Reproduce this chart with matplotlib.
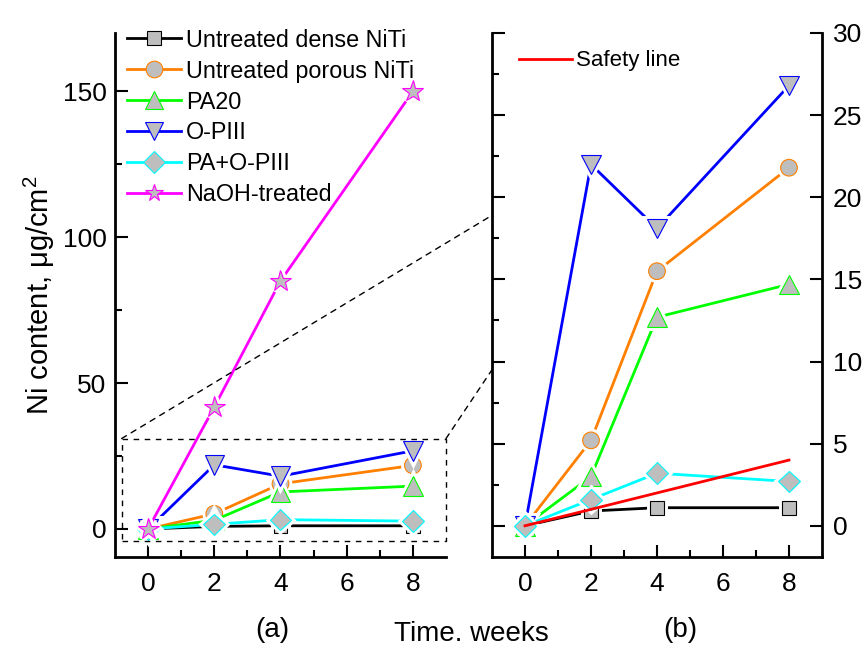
import matplotlib
matplotlib.use("Agg")
import matplotlib.pyplot as plt
from matplotlib.lines import Line2D
from matplotlib.patches import Rectangle, ConnectionPatch
import matplotlib.patheffects as pe

plt.rcParams['font.family'] = ['Liberation Sans', 'DejaVu Sans']
plt.rcParams['mathtext.fontset'] = 'custom'
plt.rcParams['mathtext.rm'] = 'Liberation Sans'

# Ni release vs immersion time
weeks = [0, 2, 4, 8]
dense = [0, 0.9, 1.1, 1.1]
porous = [0, 5.2, 15.5, 21.8]
pa20 = [0, 3.0, 12.7, 14.7]
opiii = [0, 22.0, 18.1, 26.8]
pa_opiii = [0, 1.6, 3.2, 2.7]
naoh = [0, 41.8, 85.0, 150.0]

safety_weeks = [0, 8]
safety = [0, 4.0]

labels = ['Untreated dense NiTi', 'Untreated porous NiTi', 'PA20', 'O-PIII',
          'PA+O-PIII', 'NaOH-treated']
colors = ['black', '#FF8000', '#00FF00', '#0000FF', '#00FFFF', '#FF00FF']
markers = ['s', 'o', '^', 'v', 'D', '*']
msizes = [10, 12, 14, 14, 11, 16]
gray = '#BEBEBE'

series = [dense, porous, pa20, opiii, pa_opiii, naoh]

fig = plt.figure(figsize=(8.65, 6.47), dpi=100)
ax1 = fig.add_axes([115/865, 1-557/647, 331/865, 524/647])
ax2 = fig.add_axes([492/865, 1-557/647, 330/865, 524/647])


def draw(ax, ys, c, m, ms, k):
    ax.plot(weeks, ys, color=c, lw=2, zorder=2+2*k, solid_capstyle='butt')
    ax.plot(weeks, ys, ls='none', marker=m, ms=ms, mfc=gray, mec=c, mew=0.8,
            zorder=3+2*k,
            path_effects=[pe.withStroke(linewidth=5, foreground='white')])


for k, (ys, c, m, ms) in enumerate(zip(series, colors, markers, msizes)):
    draw(ax1, ys, c, m, ms, k)
    if ys is not naoh:
        draw(ax2, ys, c, m, ms, k)

ax2.plot(safety_weeks, safety, color='red', lw=2, zorder=20)

# axes styling
for ax in (ax1, ax2):
    ax.set_xlim(-1, 9)
    ax.set_xticks([0, 2, 4, 6, 8])
    ax.set_xticks([1, 3, 5, 7], minor=True)
    ax.spines['top'].set_visible(False)
    for s in ax.spines.values():
        s.set_linewidth(2)
    ax.tick_params(which='both', direction='in', width=1.5, labelsize=19)
    ax.tick_params(which='major', length=9)
    ax.tick_params(which='minor', length=5)
    ax.tick_params(axis='x', pad=11)

ax1.spines['right'].set_visible(False)
ax1.set_ylim(-9.6, 170)
ax1.set_yticks([0, 50, 100, 150])
ax1.set_yticks([25, 75, 125], minor=True)
ax1.tick_params(axis='y', pad=6)
ax1.set_ylabel('Ni content, μg/cm$^{2}$', fontsize=21, labelpad=4)

ax2.set_ylim(-1.9, 30)
ax2.set_yticks([0, 5, 10, 15, 20, 25, 30])
ax2.set_yticks([2.5, 7.5, 12.5, 17.5, 22.5, 27.5], minor=True)
ax2.tick_params(axis='y', left=True, right=True, labelleft=False,
                labelright=True, pad=8)

# legends
handles = [Line2D([], [], color=c, lw=2, marker=m, ms=min(ms, 13), mfc=gray,
                  mec=c, mew=0.8)
           for c, m, ms in zip(colors, markers, msizes)]
ax1.legend(handles, labels, loc='upper left', bbox_to_anchor=(-0.005, 1.035),
           frameon=False, fontsize=16.8, handlelength=2.3, handletextpad=0.2,
           labelspacing=0.34, borderaxespad=0.2)
ax2.legend([Line2D([], [], color='red', lw=2)], ['Safety line'],
           loc='upper left', bbox_to_anchor=(0.02, 1.005), frameon=False,
           fontsize=16, handlelength=2.4, handletextpad=0.2)

# zoom window and connectors
ax1.add_patch(Rectangle((-0.8, -4), 9.8, 35, fill=False, ls=(0, (4, 4)),
                        lw=1, ec='black', clip_on=False, zorder=30))
for xa, yb in [(-0.8, 18.9), (9.0, 9.5)]:
    fig.add_artist(ConnectionPatch(xyA=(xa, 31), coordsA=ax1.transData,
                                   xyB=(-1, yb), coordsB=ax2.transData,
                                   ls=(0, (4, 4)), lw=1, color='black'))

fig.text(272/865, 1-630/647, '(a)', fontsize=20, ha='center', va='center')
fig.text(680/865, 1-630/647, '(b)', fontsize=20, ha='center', va='center')
fig.text(471/865, 1-634/647, 'Time. weeks', fontsize=20, ha='center',
         va='center')

fig.savefig('out.png', dpi=100)
